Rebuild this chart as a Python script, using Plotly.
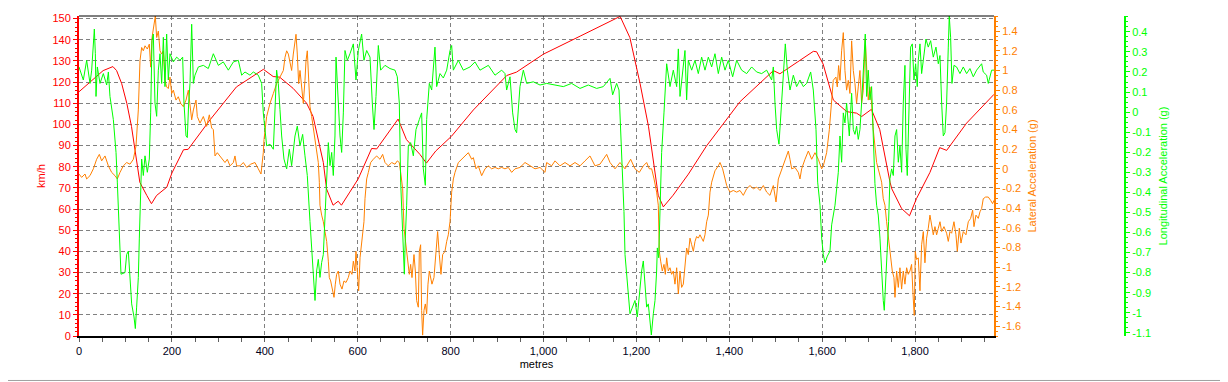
import plotly.graph_objects as go

# ---------------- data ----------------
speed_m = [0, 30, 52, 73, 81, 92, 103, 113, 124, 131, 146, 156, 167, 189, 200, 225, 235, 282, 339, 397,
           418, 432, 461, 490, 504, 526, 533, 547, 558, 565, 583, 601, 630, 641, 687, 705, 734, 748, 768,
           802, 849, 921, 942, 964, 1000, 1079, 1165, 1186, 1208, 1226, 1240, 1247, 1258, 1279, 1312,
           1351, 1423, 1495, 1509, 1581, 1588, 1602, 1624, 1653, 1674, 1685, 1706, 1724, 1746, 1750,
           1771, 1788, 1803, 1832, 1853, 1868, 1911, 1970]
speed_kmh = [115.4, 121.2, 125.4, 127.3, 125.4, 119.2, 109.9, 99.0, 83.5, 72.6, 66.4, 62.5, 66.4, 70.3, 77.0,
             88.0, 88.2, 102.1, 117.7, 126.0, 122.6, 122.3, 117.0, 110.0, 103.7, 82.0, 69.5, 61.8, 63.7,
             61.8, 68.0, 74.2, 88.6, 88.4, 102.5, 92.8, 85.8, 81.7, 87.4, 94.4, 106.8, 123.1, 124.7,
             127.8, 133.2, 141.7, 151.0, 141.0, 119.2, 99.1, 78.9, 66.5, 61.0, 66.5, 76.5, 89.8, 110.7,
             125.4, 123.9, 134.5, 134.3, 128.5, 111.5, 106.0, 105.3, 103.7, 107.1, 97.5, 72.7, 69.5,
             60.2, 56.8, 64.9, 77.3, 89.0, 87.7, 100.6, 114.2]

lat_m = [0, 5.7, 12.9, 16.5, 23.7, 30.9, 38, 43.8, 48.8, 56, 63.2, 70.3, 77.5, 82.5, 88.3, 95.4, 102.6,
         109.8, 117, 122.7, 127.7, 131.3, 134.9, 138.5, 142.1, 147.1, 151.4, 154.3, 157.2, 161.5, 164.3,
         167.2, 170.8, 174.4, 178, 181.6, 185.1, 188.7, 192.3, 195.9, 199.5, 203.1, 208.8, 213.8, 218.9,
         224.6, 230.4, 235.4, 239, 242.6, 246.2, 251.9, 254.7, 260.5, 267.7, 274.8, 280.6, 285.6, 289.2,
         292.8, 297.8, 303.5, 309.3, 314.3, 319.3, 325.1, 332.3, 335.8, 339.4, 346.6, 353.8, 361, 369.6,
         378.9, 386, 391.8, 396.8, 398.3, 404, 411.2, 418.4, 425.5, 432.7, 439.9, 443.5, 447.1, 450.7,
         454.2, 457.8, 461.4, 465, 467.2, 470, 472.9, 475.8, 479.3, 482.9, 486.5, 488.7, 491.5, 493.7,
         497.3, 500.9, 505.9, 508.8, 511.6, 515.2, 517.4, 518.8, 522.4, 526, 529.6, 533.2, 536.8, 538.9,
         541.8, 546.1, 549, 551.8, 554.7, 558.3, 561.9, 566.2, 570.5, 574.8, 579.8, 583.4, 587.7, 590.6,
         594.2, 596.3, 599.2, 602.1, 605, 608.5, 610.7, 613.5, 615.7, 619.3, 622.9, 627.9, 633.6, 640.8,
         648, 653.7, 658.8, 665.9, 673.1, 680.3, 685.3, 689.6, 692.5, 696.8, 699.7, 703.2, 706.9, 711.1,
         714, 716.9, 721.2, 724.1, 726.9, 730.5, 732.7, 735.5, 737.7, 739.8, 742.7, 745.6, 748.5, 751.3,
         754.2, 757, 759.9, 764.2, 768.5, 772.1, 775.7, 779.3, 782.9, 787.9, 791.6, 795.1, 798.8, 802.3,
         806, 809.5, 816.7, 823.8, 831, 838.2, 845.4, 849, 854.7, 859.7, 866.9, 874.1, 881.3, 888.4,
         895.6, 902.8, 910, 917.1, 924.3, 931.5, 938.7, 949.4, 960.2, 971, 981.7, 992.5, 1003.2, 1006.8,
         1017.6, 1024.8, 1035.5, 1046.3, 1057.1, 1067.8, 1078.6, 1089.4, 1100.1, 1110.9, 1121.6, 1136,
         1143.2, 1154, 1164.7, 1175.5, 1187.7, 1197, 1206.3, 1215, 1222.1, 1227.8, 1232.9, 1238,
         1243.6, 1247.2, 1249.4, 1252.3, 1255.8, 1259.4, 1262.3, 1265.2, 1268.7, 1272.4, 1275.9, 1279.5,
         1283.1, 1286.7, 1290.3, 1293.9, 1297.4, 1301, 1304.6, 1308.2, 1311.8, 1315.4, 1319, 1322.6,
         1326.2, 1329.7, 1333.3, 1336.9, 1340.5, 1344.1, 1347.7, 1351.3, 1354.9, 1358.5, 1362.1, 1365.6,
         1369.2, 1376.4, 1380, 1385.7, 1390.8, 1394.4, 1397.9, 1401.5, 1408.7, 1415.9, 1423, 1430.2,
         1437.4, 1444.6, 1451.8, 1459, 1466.1, 1473.3, 1480.5, 1487.6, 1494.8, 1500.6, 1505.6, 1512.8,
         1520, 1527.1, 1530.7, 1534.3, 1541.4, 1548.6, 1552.2, 1555.8, 1563, 1570.2, 1577.4, 1584.5,
         1591.7, 1598.8, 1602.4, 1609.6, 1615.4, 1620.4, 1623.9, 1629.6, 1632.5, 1635.4, 1638.3, 1641.9,
         1645.5, 1649, 1652.6, 1656.2, 1659.8, 1663.4, 1667, 1670.6, 1674.1, 1677.7, 1681.3, 1684.9,
         1688.5, 1692.8, 1695.7, 1699.2, 1702.8, 1706.4, 1710, 1713.6, 1717.2, 1720.7, 1724.4, 1728,
         1731.5, 1735.2, 1738.7, 1742.3, 1745.9, 1748, 1750.9, 1754.5, 1756.7, 1760.3, 1763.9, 1767.4,
         1771, 1774.6, 1778.2, 1781.8, 1785.3, 1788.9, 1792.5, 1796.1, 1798.3, 1800.4, 1803.3, 1806.9,
         1810.5, 1814.1, 1817.7, 1821.2, 1824.8, 1828.4, 1832, 1835.6, 1839.2, 1842.8, 1846.4, 1850,
         1853.6, 1857.2, 1862.2, 1867.9, 1871.5, 1875.1, 1878.7, 1883.7, 1888, 1890.9, 1895.2, 1898.8,
         1903.8, 1909.5, 1914.6, 1919.6, 1923.9, 1926.8, 1931.1, 1936.1, 1939.7, 1943.3, 1946.8, 1951.9,
         1957.6, 1962.6, 1966.9, 1970]
lat_g = [-0.053, -0.087, -0.053, -0.103, -0.069, 0.0, 0.097, 0.147, 0.081, 0.131, 0.03, -0.036, -0.07,
         -0.103, -0.036, 0.03, 0.064, 0.047, 0.097, 0.231, 0.599, 1.1, 1.234, 1.2, 1.251, 1.218, 1.268,
         1.034, 1.335, 1.502, 1.554, 1.335, 1.401, 1.2, 1.167, 1.2, 0.9, 0.833, 0.816, 0.933, 0.766, 0.8,
         0.699, 0.733, 0.666, 0.632, 0.699, 0.8, 0.666, 0.498, 0.599, 0.699, 0.532, 0.465, 0.532, 0.432,
         0.549, 0.415, 0.398, 0.131, 0.164, 0.131, 0.097, 0.064, 0.097, 0.03, 0.064, 0.131, 0.03, 0.03,
         0.064, 0.014, 0.047, 0.064, 0.0, -0.053, 0.164, 0.298, 0.532, 0.666, 0.766, 0.866, 0.933, 1.0,
         1.134, 1.2, 1.167, 1.1, 1.0, 1.167, 1.301, 1.368, 1.167, 0.866, 1.0, 0.833, 0.666, 0.9, 1.1, 1.2,
         0.967, 0.632, 0.532, 0.365, 0.298, 0.198, 0.064, -0.137, -0.37, -0.471, -0.538, -0.638, -0.738,
         -0.939, -1.106, -1.14, -1.24, -1.307, -1.173, -1.073, -1.039, -1.173, -1.223, -1.14, -1.156,
         -1.106, -1.039, -1.073, -0.939, -1.039, -0.839, -1.073, -1.24, -0.905, -0.738, -0.705, -0.538,
         -0.304, -0.103, -0.036, 0.064, 0.097, 0.131, 0.097, 0.147, 0.064, 0.03, 0.064, 0.047, 0.081,
         0.064, -0.036, -0.203, -0.604, -0.772, -0.905, -1.073, -0.972, -1.106, -0.872, -1.039, -1.34,
         -1.407, -0.839, -0.772, -1.44, -1.691, -1.44, -1.374, -1.474, -1.173, -1.039, -1.106, -1.173,
         -1.106, -0.805, -0.638, -0.872, -1.073, -0.872, -0.839, -0.738, -0.671, -0.538, -0.237, -0.103,
         -0.036, 0.064, 0.097, 0.131, 0.164, 0.097, 0.114, 0.0, 0.03, -0.07, 0.0, 0.03, 0.0, 0.014, 0.0,
         0.014, 0.0, 0.014, -0.036, 0.0, 0.014, 0.064, 0.03, 0.0, 0.014, -0.036, 0.064, 0.03, 0.081, 0.03,
         0.064, 0.03, 0.064, 0.03, 0.081, 0.131, 0.03, 0.047, 0.147, 0.064, 0.0, 0.064, 0.0, 0.097, 0.0,
         -0.036, 0.03, 0.064, 0.0, 0.0, -0.103, -0.237, -0.37, -0.839, -0.939, -1.039, -0.972, -1.073,
         -0.905, -1.039, -1.006, -1.073, -1.039, -1.173, -1.006, -1.273, -1.039, -1.206, -1.173, -0.972,
         -0.805, -0.872, -0.705, -0.772, -0.839, -0.738, -0.688, -0.705, -0.671, -0.705, -0.738, -0.671,
         -0.538, -0.471, -0.237, -0.136, -0.086, -0.02, 0.03, 0.064, 0.0, -0.103, -0.17, -0.203, -0.237,
         -0.22, -0.237, -0.22, -0.27, -0.203, -0.17, -0.203, -0.186, -0.22, -0.17, -0.237, -0.27, -0.17,
         -0.337, -0.103, 0.0, 0.097, 0.181, 0.097, 0.0, 0.014, -0.036, -0.103, 0.0, 0.097, 0.181, 0.097,
         0.164, 0.097, 0.0, 0.03, 0.164, 0.398, 0.666, 0.9, 0.933, 0.833, 1.05, 0.9, 1.2, 1.385, 1.0, 0.8,
         0.9, 0.766, 1.301, 1.0, 0.866, 0.666, 0.833, 1.0, 0.666, 0.8, 1.318, 0.967, 0.699, 0.833, 0.666,
         0.398, 0.198, 0.064, 0.0, -0.07, -0.136, -0.304, -0.37, -0.538, -0.705, -0.805, -0.905, -1.039,
         -1.106, -1.307, -1.039, -1.206, -1.006, -1.223, -1.039, -1.173, -1.006, -1.073, -1.039, -0.972,
         -1.323, -1.491, -0.839, -0.922, -0.905, -1.24, -0.772, -0.638, -0.956, -0.705, -0.604, -0.471,
         -0.571, -0.671, -0.588, -0.671, -0.604, -0.538, -0.638, -0.588, -0.655, -0.738, -0.638, -0.655,
         -0.538, -0.671, -0.839, -0.604, -0.755, -0.638, -0.671, -0.538, -0.504, -0.421, -0.588, -0.471,
         -0.504, -0.437, -0.404, -0.304, -0.287, -0.287, -0.32, -0.354, -0.32]

lon_m = [0, 9.3, 16.5, 23.7, 27.3, 33, 35.2, 36.6, 39.5, 45.2, 52.4, 59.6, 63.2, 66.7, 73.9, 79.7, 82.5,
         84.7, 86.8, 88.3, 90.4, 99, 102.6, 106.2, 109.8, 113.4, 118.4, 121.3, 124.1, 127.7, 129.9,
         132.8, 134.9, 138.5, 142.1, 147.1, 151.4, 154.3, 157.2, 160, 163.6, 167.2, 170.8, 174.4, 178,
         181.6, 185.1, 188.7, 192.3, 195.9, 203.1, 210.3, 217.4, 223.2, 226, 230.4, 233.2, 236.1, 239,
         242.6, 246.2, 249.7, 256.9, 267.7, 278.4, 289.2, 300, 310.7, 321.5, 332.3, 343, 350.2, 357.4,
         368.1, 375.3, 386, 393.2, 396.8, 400.4, 404, 411.2, 418.4, 425.5, 429.1, 432.7, 436.3, 441.3,
         447.1, 452.8, 457.8, 465, 470, 475.8, 481.5, 486.5, 491.5, 497.3, 501.6, 505.9, 508.1, 511.6,
         515.2, 518.8, 522.4, 526, 529.6, 533.2, 536.8, 540.4, 544, 547.5, 551.1, 553.3, 558.3, 561.9,
         565.5, 569.1, 572.6, 577.7, 583.4, 590.6, 596.3, 601.4, 608.5, 613.5, 619.3, 626.5, 631.5,
         635.1, 639.4, 644.4, 649.4, 658.8, 669.5, 680.3, 685.3, 689.6, 692.5, 695.4, 698.2, 700.4,
         702.5, 705.4, 709, 714, 719.8, 725.5, 732.7, 737.7, 741.3, 745.6, 748.5, 754.2, 759.3, 766.4,
         770, 777.2, 784.4, 791.6, 798.8, 802.3, 805.9, 816.7, 827.4, 841.8, 852.5, 863.3, 881.3, 895.6,
         910, 917.1, 920.7, 927.9, 933.6, 938.7, 942.2, 945.8, 949.4, 956.6, 963.8, 978.1, 992.5, 1006.8,
         1024.8, 1042.7, 1060.6, 1078.6, 1096.5, 1114.5, 1128.8, 1143.2, 1148.9, 1157.5, 1162.6, 1166.1,
         1168.3, 1171.9, 1173.3, 1175.5, 1179, 1182.6, 1186.2, 1192, 1197, 1202, 1207.8, 1211.3, 1214.9,
         1218.5, 1222.1, 1225.7, 1229.3, 1232.2, 1236.5, 1240.1, 1243.6, 1245.1, 1248, 1250.8, 1254.4,
         1259.4, 1265.2, 1272.4, 1279.5, 1286.7, 1290.3, 1293.9, 1299.6, 1304.6, 1308.2, 1311.8, 1319,
         1326.2, 1333.3, 1340.5, 1347.7, 1354.9, 1362.1, 1369.2, 1376.4, 1383.6, 1390.8, 1397.9, 1407.3,
         1415.9, 1426.6, 1437.4, 1448.2, 1458.9, 1469.7, 1480.5, 1491.2, 1494.8, 1498.4, 1502, 1507,
         1510.6, 1514.2, 1517.8, 1520.6, 1525, 1530.7, 1537.9, 1545, 1552.2, 1559.4, 1566.6, 1575.2,
         1580.9, 1586.7, 1590.3, 1595.3, 1598.9, 1602.4, 1606, 1611.1, 1616.8, 1620.4, 1627.6, 1634.7,
         1638.3, 1641.9, 1645.5, 1649, 1652.6, 1658.4, 1663.4, 1667, 1670.6, 1674.1, 1677.7, 1681.3,
         1684.9, 1688.5, 1692.8, 1695.7, 1699.2, 1702.8, 1706.4, 1710, 1713.6, 1717.2, 1720.7, 1724.4,
         1728, 1731.5, 1733.7, 1736.6, 1740.2, 1743, 1745.9, 1749.5, 1753.1, 1756.7, 1760.3, 1763.9,
         1767.4, 1771, 1774.6, 1778.2, 1780.4, 1783.2, 1787.5, 1790.4, 1794, 1797.6, 1801.2, 1804.7,
         1806.9, 1810.5, 1814.1, 1817.7, 1823.4, 1828.4, 1833.5, 1839.2, 1845, 1850, 1853.6, 1857.2,
         1860.7, 1864.3, 1867.9, 1871.5, 1873.6, 1876.5, 1879.4, 1883.7, 1889.4, 1896.6, 1903.8, 1911,
         1918.1, 1925.3, 1932.5, 1943.3, 1946.8, 1954, 1957.6, 1964.8, 1970]
lon_g = [0.225, 0.16, 0.258, 0.143, 0.209, 0.414, 0.291, 0.078, 0.225, 0.143, 0.192, 0.135, 0.2, 0.078,
         -0.037, -0.201, -0.349, -0.464, -0.595, -0.726, -0.808, -0.8, -0.71, -0.693, -0.808, -0.956,
         -1.021, -1.079, -0.972, -0.825, -0.628, -0.3, -0.234, -0.316, -0.218, -0.3, -0.234, -0.004,
         0.356, 0.389, 0.045, -0.021, 0.209, 0.291, 0.143, 0.373, 0.127, 0.389, 0.16, 0.291, 0.25, 0.274,
         0.258, 0.274, 0.045, -0.119, -0.127, 0.045, 0.143, 0.438, 0.143, 0.184, 0.225, 0.233, 0.217,
         0.291, 0.233, 0.25, 0.209, 0.25, 0.258, 0.184, 0.2, 0.184, 0.2, 0.184, 0.143, -0.004, -0.087,
         -0.168, -0.16, -0.185, 0.209, 0.143, 0.012, -0.119, -0.234, -0.283, -0.185, -0.267, -0.119,
         -0.07, -0.168, -0.111, -0.218, -0.316, -0.546, -0.71, -0.874, -0.939, -0.792, -0.734, -0.824,
         -0.75, -0.71, -0.546, -0.349, -0.152, -0.267, -0.201, -0.316, -0.119, 0.274, 0.061, -0.119,
         -0.201, -0.004, 0.307, 0.258, 0.291, 0.34, 0.16, 0.307, 0.389, 0.258, 0.307, 0.274, 0.045,
         -0.087, 0.078, 0.332, 0.209, 0.233, 0.217, 0.209, 0.176, 0.045, -0.349, -0.546, -0.677, -0.808,
         -0.628, -0.464, -0.168, -0.152, -0.218, -0.087, -0.037, -0.004, -0.283, -0.365, -0.037, 0.143,
         0.11, 0.324, 0.127, 0.192, 0.17, 0.209, 0.307, 0.332, 0.209, 0.258, 0.209, 0.225, 0.25, 0.209,
         0.233, 0.184, 0.209, 0.192, 0.11, 0.176, -0.004, -0.087, -0.103, 0.012, 0.127, 0.209, 0.143,
         0.151, 0.135, 0.143, 0.135, 0.127, 0.143, 0.118, 0.135, 0.118, 0.127, 0.168, 0.086, 0.143, 0.11,
         -0.087, -0.201, -0.349, -0.496, -0.71, -0.792, -0.906, -1.005, -0.964, -0.939, -1.021, -0.874,
         -0.792, -0.742, -0.874, -0.972, -0.956, -1.054, -1.111, -1.005, -0.939, -0.792, -0.677, -0.726,
         -0.464, -0.201, -0.004, 0.241, 0.127, 0.209, 0.127, 0.315, 0.078, 0.209, 0.307, 0.061, 0.258,
         0.209, 0.258, 0.192, 0.274, 0.209, 0.274, 0.225, 0.291, 0.192, 0.274, 0.209, 0.258, 0.176, 0.258,
         0.209, 0.192, 0.225, 0.2, 0.192, 0.209, 0.16, 0.225, 0.045, -0.087, -0.16, -0.037, 0.127, 0.241,
         0.34, 0.209, 0.11, 0.184, 0.127, 0.16, 0.127, 0.143, 0.2, 0.11, -0.087, -0.349, -0.464, -0.628,
         -0.71, -0.751, -0.718, -0.693, -0.562, -0.464, -0.3, -0.119, -0.25, -0.004, -0.054, 0.045,
         -0.119, 0.094, -0.087, -0.111, -0.07, -0.136, -0.087, 0.045, 0.209, 0.389, 0.078, 0.209, 0.061,
         0.127, -0.119, -0.357, -0.464, -0.513, -0.628, -0.824, -0.939, -0.988, -0.808, -0.677, -0.546,
         -0.332, -0.283, -0.316, -0.119, -0.087, -0.25, -0.168, -0.3, 0.045, 0.233, -0.185, -0.316, 0.045,
         0.324, 0.34, 0.16, 0.241, 0.127, 0.258, 0.34, 0.192, 0.258, 0.364, 0.324, 0.356, 0.274, 0.324,
         0.241, 0.282, 0.045, -0.119, -0.103, 0.045, 0.324, 0.479, 0.373, 0.143, 0.233, 0.225, 0.192,
         0.225, 0.192, 0.217, 0.176, 0.209, 0.241, 0.2, 0.184, 0.143, 0.209, 0.209]

x_ticks = [0, 200, 400, 600, 800, 1000, 1200, 1400, 1600, 1800]
x_labels = ["0", "200", "400", "600", "800", "1,000", "1,200", "1,400", "1,600", "1,800"]
speed_ticks = list(range(0, 151, 10))
lat_ticks = [1.4, 1.2, 1.0, 0.8, 0.6, 0.4, 0.2, 0.0, -0.2, -0.4, -0.6, -0.8, -1.0, -1.2, -1.4, -1.6]
lat_labels = ["1.4", "1.2", "1", "0.8", "0.6", "0.4", "0.2", "0", "-0.2", "-0.4", "-0.6", "-0.8",
              "-1", "-1.2", "-1.4", "-1.6"]
lon_ticks = [0.4, 0.3, 0.2, 0.1, 0.0, -0.1, -0.2, -0.3, -0.4, -0.5, -0.6, -0.7, -0.8, -0.9, -1.0, -1.1]
lon_labels = ["0.4", "0.3", "0.2", "0.1", "0", "-0.1", "-0.2", "-0.3", "-0.4", "-0.5", "-0.6", "-0.7",
              "-0.8", "-0.9", "-1", "-1.1"]

RED = "#FF0000"
ORANGE = "#FF8000"
GREEN = "#00FF00"
FONT = "Liberation Sans, Arial, sans-serif"

fig = go.Figure()
fig.add_trace(go.Scatter(x=lat_m, y=lat_g, mode="lines", line=dict(color=ORANGE, width=1),
                         yaxis="y2", name="Lateral Acceleration (g)"))
fig.add_trace(go.Scatter(x=lon_m, y=lon_g, mode="lines", line=dict(color=GREEN, width=1),
                         yaxis="y3", name="Longitudinal Acceleration (g)"))
fig.add_trace(go.Scatter(x=speed_m, y=speed_kmh, mode="lines", line=dict(color=RED, width=1),
                         yaxis="y", name="km/h"))

# the page body adds an 8px offset, so the figure is 8px smaller than the window
XDOM = 0.8748
fig.update_layout(
    width=1220, height=374,
    margin=dict(l=71, r=103, t=4, b=46),
    paper_bgcolor="white", plot_bgcolor="white",
    showlegend=False,
    font=dict(family=FONT, size=11, color="black"),
    xaxis=dict(
        domain=[0, XDOM], range=[0, 1970],
        tickmode="array", tickvals=x_ticks, ticktext=x_labels,
        showgrid=True, gridcolor="#808080", griddash="4px,3px", gridwidth=1,
        showline=True, linecolor="black", linewidth=2,
        ticks="outside", ticklen=4, tickcolor="#606060",
        minor=dict(tickmode="linear", tick0=0, dtick=50, ticks="outside", ticklen=4,
                   tickcolor="#606060", showgrid=False),
        zeroline=False,
        tickfont=dict(family=FONT, size=11, color="#000020"),
        title=dict(text="metres", font=dict(family=FONT, size=11, color="black"), standoff=4),
    ),
    yaxis=dict(
        range=[0, 151.2], tickmode="array", tickvals=speed_ticks,
        showgrid=True, gridcolor="#808080", griddash="4px,3px", gridwidth=1,
        showline=True, linecolor=RED, linewidth=2,
        ticks="outside", ticklen=4, tickcolor=RED,
        minor=dict(tickmode="linear", tick0=0, dtick=2, ticks="outside", ticklen=2,
                   tickcolor=RED, showgrid=False),
        zeroline=False,
        tickfont=dict(family=FONT, size=11, color=RED),
        title=dict(text="km/h", font=dict(family=FONT, size=11, color=RED), standoff=5),
    ),
    yaxis2=dict(
        overlaying="y", side="right", anchor="x",
        range=[-1.70, 1.554], tickmode="array", tickvals=lat_ticks, ticktext=lat_labels,
        showgrid=False, zeroline=False,
        showline=True, linecolor=ORANGE, linewidth=2,
        ticks="outside", ticklen=4, tickcolor=ORANGE,
        minor=dict(tickmode="linear", tick0=0, dtick=0.05, ticks="outside", ticklen=2,
                   tickcolor=ORANGE, showgrid=False),
        tickfont=dict(family=FONT, size=11, color=ORANGE),
        title=dict(text="Lateral Acceleration (g)", font=dict(family=FONT, size=11, color=ORANGE),
                   standoff=8),
    ),
    yaxis3=dict(
        overlaying="y", side="right", anchor="free", position=1.0,
        range=[-1.116, 0.479], tickmode="array", tickvals=lon_ticks, ticktext=lon_labels,
        showgrid=False, zeroline=False,
        showline=True, linecolor=GREEN, linewidth=2,
        ticks="outside", ticklen=4, tickcolor=GREEN,
        minor=dict(tickmode="linear", tick0=0, dtick=0.025, ticks="outside", ticklen=2,
                   tickcolor=GREEN, showgrid=False),
        tickfont=dict(family=FONT, size=11, color=GREEN),
        title=dict(text="Longitudinal Acceleration (g)", font=dict(family=FONT, size=11, color=GREEN),
                   standoff=8),
    ),
    shapes=[
        dict(type="line", xref="paper", yref="paper", x0=0, x1=XDOM, y0=1, y1=1,
             line=dict(color="black", width=1)),
        dict(type="line", xref="paper", yref="paper", x0=1.0966, x1=1.0966, y0=-0.14, y1=1.02,
             line=dict(color="#A0A0A0", width=1)),
        dict(type="line", xref="paper", yref="paper", x0=-0.075, x1=1.0966, y0=-0.139, y1=-0.139,
             line=dict(color="#A0A0A0", width=1)),
    ],
)

fig.write_html("out.html")
